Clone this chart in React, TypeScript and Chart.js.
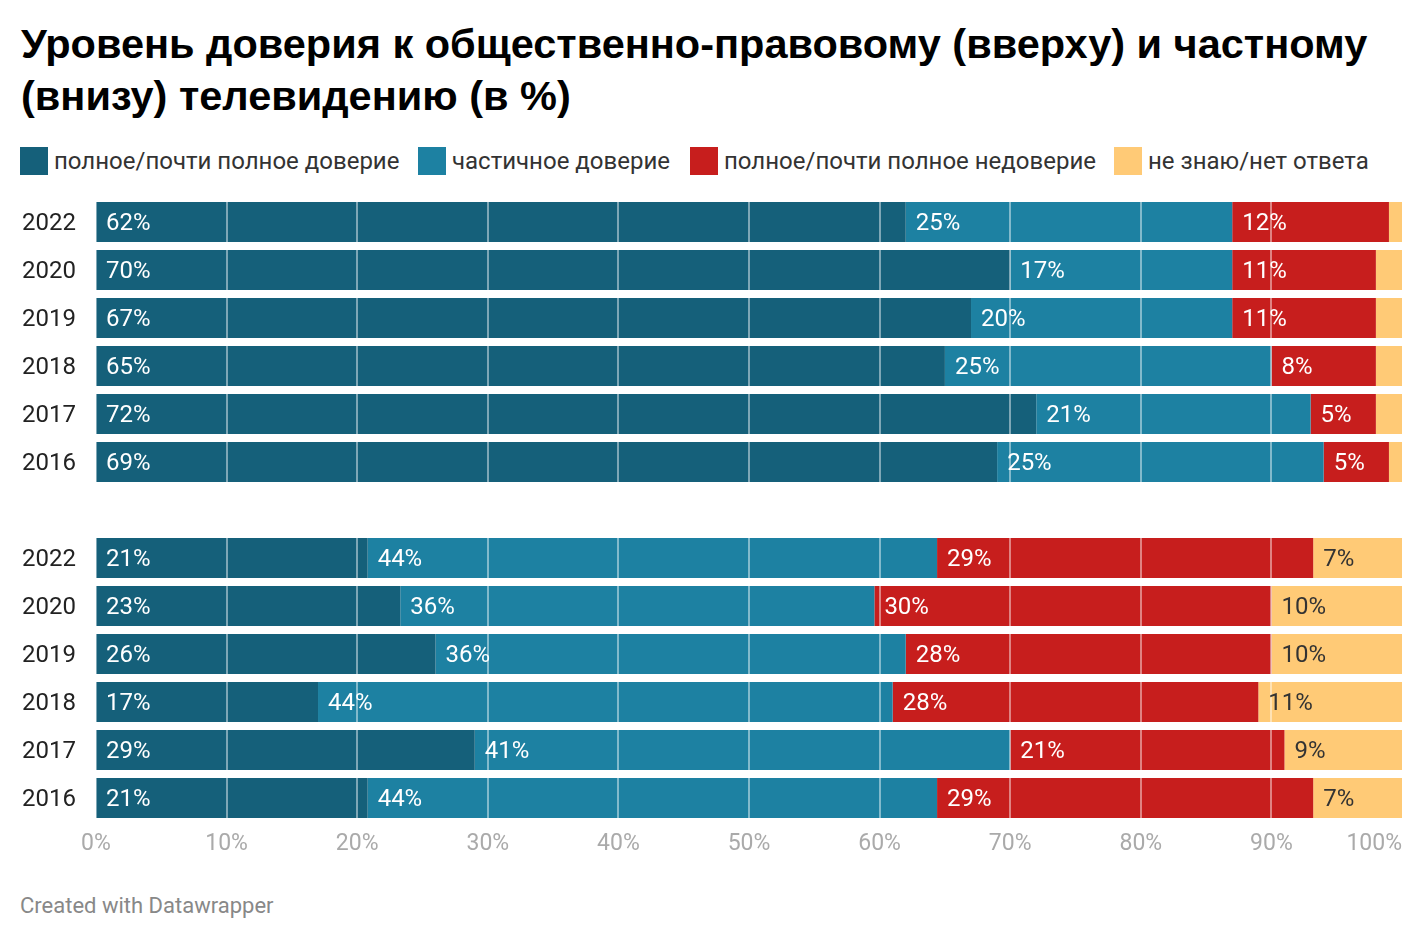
import React, { useEffect, useRef } from "react";
import { Chart, registerables } from "chart.js";

Chart.register(...registerables);

const TITLE = "Уровень доверия к общественно-правовому (вверху) и частному (внизу) телевидению (в %)";
const FOOTER = "Created with Datawrapper";

const years = ["2022", "2020", "2019", "2018", "2017", "2016"];
const categories = [...years, "", ...years];

const seriesNames = [
  "полное/почти полное доверие",
  "частичное доверие",
  "полное/почти полное недоверие",
  "не знаю/нет ответа",
];
const seriesColors = ["#15607a", "#1d81a2", "#c71e1d", "#ffca76"];
const labelColors = ["#ffffff", "#ffffff", "#ffffff", "#333333"];

// public TV (top group)
const publicFull = [62, 70, 67, 65, 72, 69];
const publicPartial = [25, 17, 20, 25, 21, 25];
const publicDistrust = [12, 11, 11, 8, 5, 5];
const publicUnknown = [1, 2, 2, 2, 2, 1];

// private TV (bottom group)
const privateFull = [20.8, 23.3, 26, 17, 29, 20.8];
const privatePartial = [43.6, 36.3, 36, 44, 41, 43.6];
const privateDistrust = [28.8, 30.4, 28, 28, 21, 28.8];
const privateUnknown = [6.8, 10, 10, 11, 9, 6.8];

const xTicks = [0, 10, 20, 30, 40, 50, 60, 70, 80, 90, 100];
const xTickLabels = ["0%", "10%", "20%", "30%", "40%", "50%", "60%", "70%", "80%", "90%", "100%"];

const seriesData = [
  [...publicFull, null, ...privateFull],
  [...publicPartial, null, ...privatePartial],
  [...publicDistrust, null, ...privateDistrust],
  [...publicUnknown, null, ...privateUnknown],
];

const FONT = "Roboto, 'Noto Sans', sans-serif";

const overlayPlugin = {
  id: "overlay",
  afterDatasetsDraw(chart: any) {
    const ctx = chart.ctx;
    const xs = chart.scales.x;
    const meta0 = chart.getDatasetMeta(0);
    ctx.save();
    // grid lines drawn over the bars
    ctx.strokeStyle = "rgba(255,255,255,0.45)";
    meta0.data.forEach((bar: any, i: number) => {
      if (chart.data.datasets[0].data[i] == null) return;
      const p = bar.getProps(["y", "height"], true);
      const top = p.y - p.height / 2;
      const bottom = p.y + p.height / 2;
      xTicks.forEach((t) => {
        if (t === 100) return;
        const px = Math.round(xs.getPixelForValue(t)) + (t === 0 ? 0.5 : 0);
        ctx.lineWidth = t === 0 ? 1 : 2;
        ctx.beginPath();
        ctx.moveTo(px, top);
        ctx.lineTo(px, bottom);
        ctx.stroke();
      });
    });
    // value labels
    ctx.font = `24px ${FONT}`;
    ctx.textBaseline = "middle";
    ctx.textAlign = "left";
    chart.data.datasets.forEach((ds: any, di: number) => {
      const meta = chart.getDatasetMeta(di);
      meta.data.forEach((bar: any, i: number) => {
        const v = ds.data[i];
        if (v == null || v < 3) return;
        const p = bar.getProps(["x", "y", "base"], true);
        const left = Math.min(p.x, p.base);
        ctx.fillStyle = labelColors[di];
        ctx.fillText(`${Math.round(v)}%`, left + 10, p.y + 2);
      });
    });
    // x tick labels
    ctx.font = `23px ${FONT}`;
    ctx.fillStyle = "#aaaaaa";
    ctx.textBaseline = "middle";
    xTicks.forEach((t, i) => {
      const px = xs.getPixelForValue(t);
      ctx.textAlign = t === 100 ? "right" : "center";
      ctx.fillText(xTickLabels[i], px, xs.top + 22);
    });
    ctx.restore();
  },
};

export default function App() {
  const canvasRef = useRef<HTMLCanvasElement>(null);

  useEffect(() => {
    const chart = new Chart(canvasRef.current!, {
      type: "bar",
      data: {
        labels: categories,
        datasets: seriesData.map((d, i) => ({
          label: seriesNames[i],
          data: d,
          backgroundColor: seriesColors[i],
          borderWidth: 0,
          barPercentage: 40 / 48,
          categoryPercentage: 1,
        })),
      },
      options: {
        indexAxis: "y",
        animation: false,
        responsive: false,
        maintainAspectRatio: false,
        layout: { padding: { top: 8, right: 22, left: 0, bottom: 0 } },
        plugins: {
          legend: { display: false },
          tooltip: { enabled: false },
          title: { display: false },
        },
        scales: {
          x: {
            stacked: true,
            min: 0,
            max: 100,
            grid: { display: false, drawTicks: false },
            border: { display: false },
            ticks: { display: false, stepSize: 10 },
            afterFit: (s: any) => {
              s.height = 48;
              s.paddingLeft = 0;
              s.paddingRight = 0;
            },
          },
          y: {
            stacked: true,
            grid: { display: false, drawTicks: false },
            border: { display: false },
            ticks: {
              padding: 20,
              labelOffset: 2,
              color: "#222222",
              font: { family: FONT, size: 24 },
            },
            afterFit: (s: any) => {
              s.width = 96;
              s.paddingTop = 0;
              s.paddingBottom = 0;
            },
          },
        },
      },
      plugins: [overlayPlugin],
    });
    return () => chart.destroy();
  }, []);

  const legendX = [20, 418, 690, 1114];

  return (
    <div style={{ position: "absolute", left: 0, top: 0, width: 1424, height: 942, background: "#fff", fontFamily: FONT }}>
      <div
        style={{
          position: "absolute",
          left: 21,
          top: 18,
          width: 1390,
          fontFamily: "'Liberation Sans', Arial, sans-serif",
          fontSize: 41.5,
          fontWeight: 700,
          lineHeight: "52px",
          color: "#000",
        }}
      >
        {TITLE}
      </div>
      {seriesNames.map((name, i) => (
        <div
          key={name}
          style={{ position: "absolute", left: legendX[i], top: 147, height: 28, display: "flex", alignItems: "center", whiteSpace: "nowrap" }}
        >
          <span style={{ display: "inline-block", width: 28, height: 28, background: seriesColors[i], marginRight: 6 }} />
          <span style={{ fontSize: 24, color: "#333" }}>{name}</span>
        </div>
      ))}
      <div style={{ position: "absolute", left: 0, top: 190, width: 1424, height: 680 }}>
        <canvas ref={canvasRef} width={1424} height={680} style={{ display: "block" }} />
      </div>
      <div style={{ position: "absolute", left: 20, top: 893, fontSize: 22, color: "#888" }}>{FOOTER}</div>
    </div>
  );
}
